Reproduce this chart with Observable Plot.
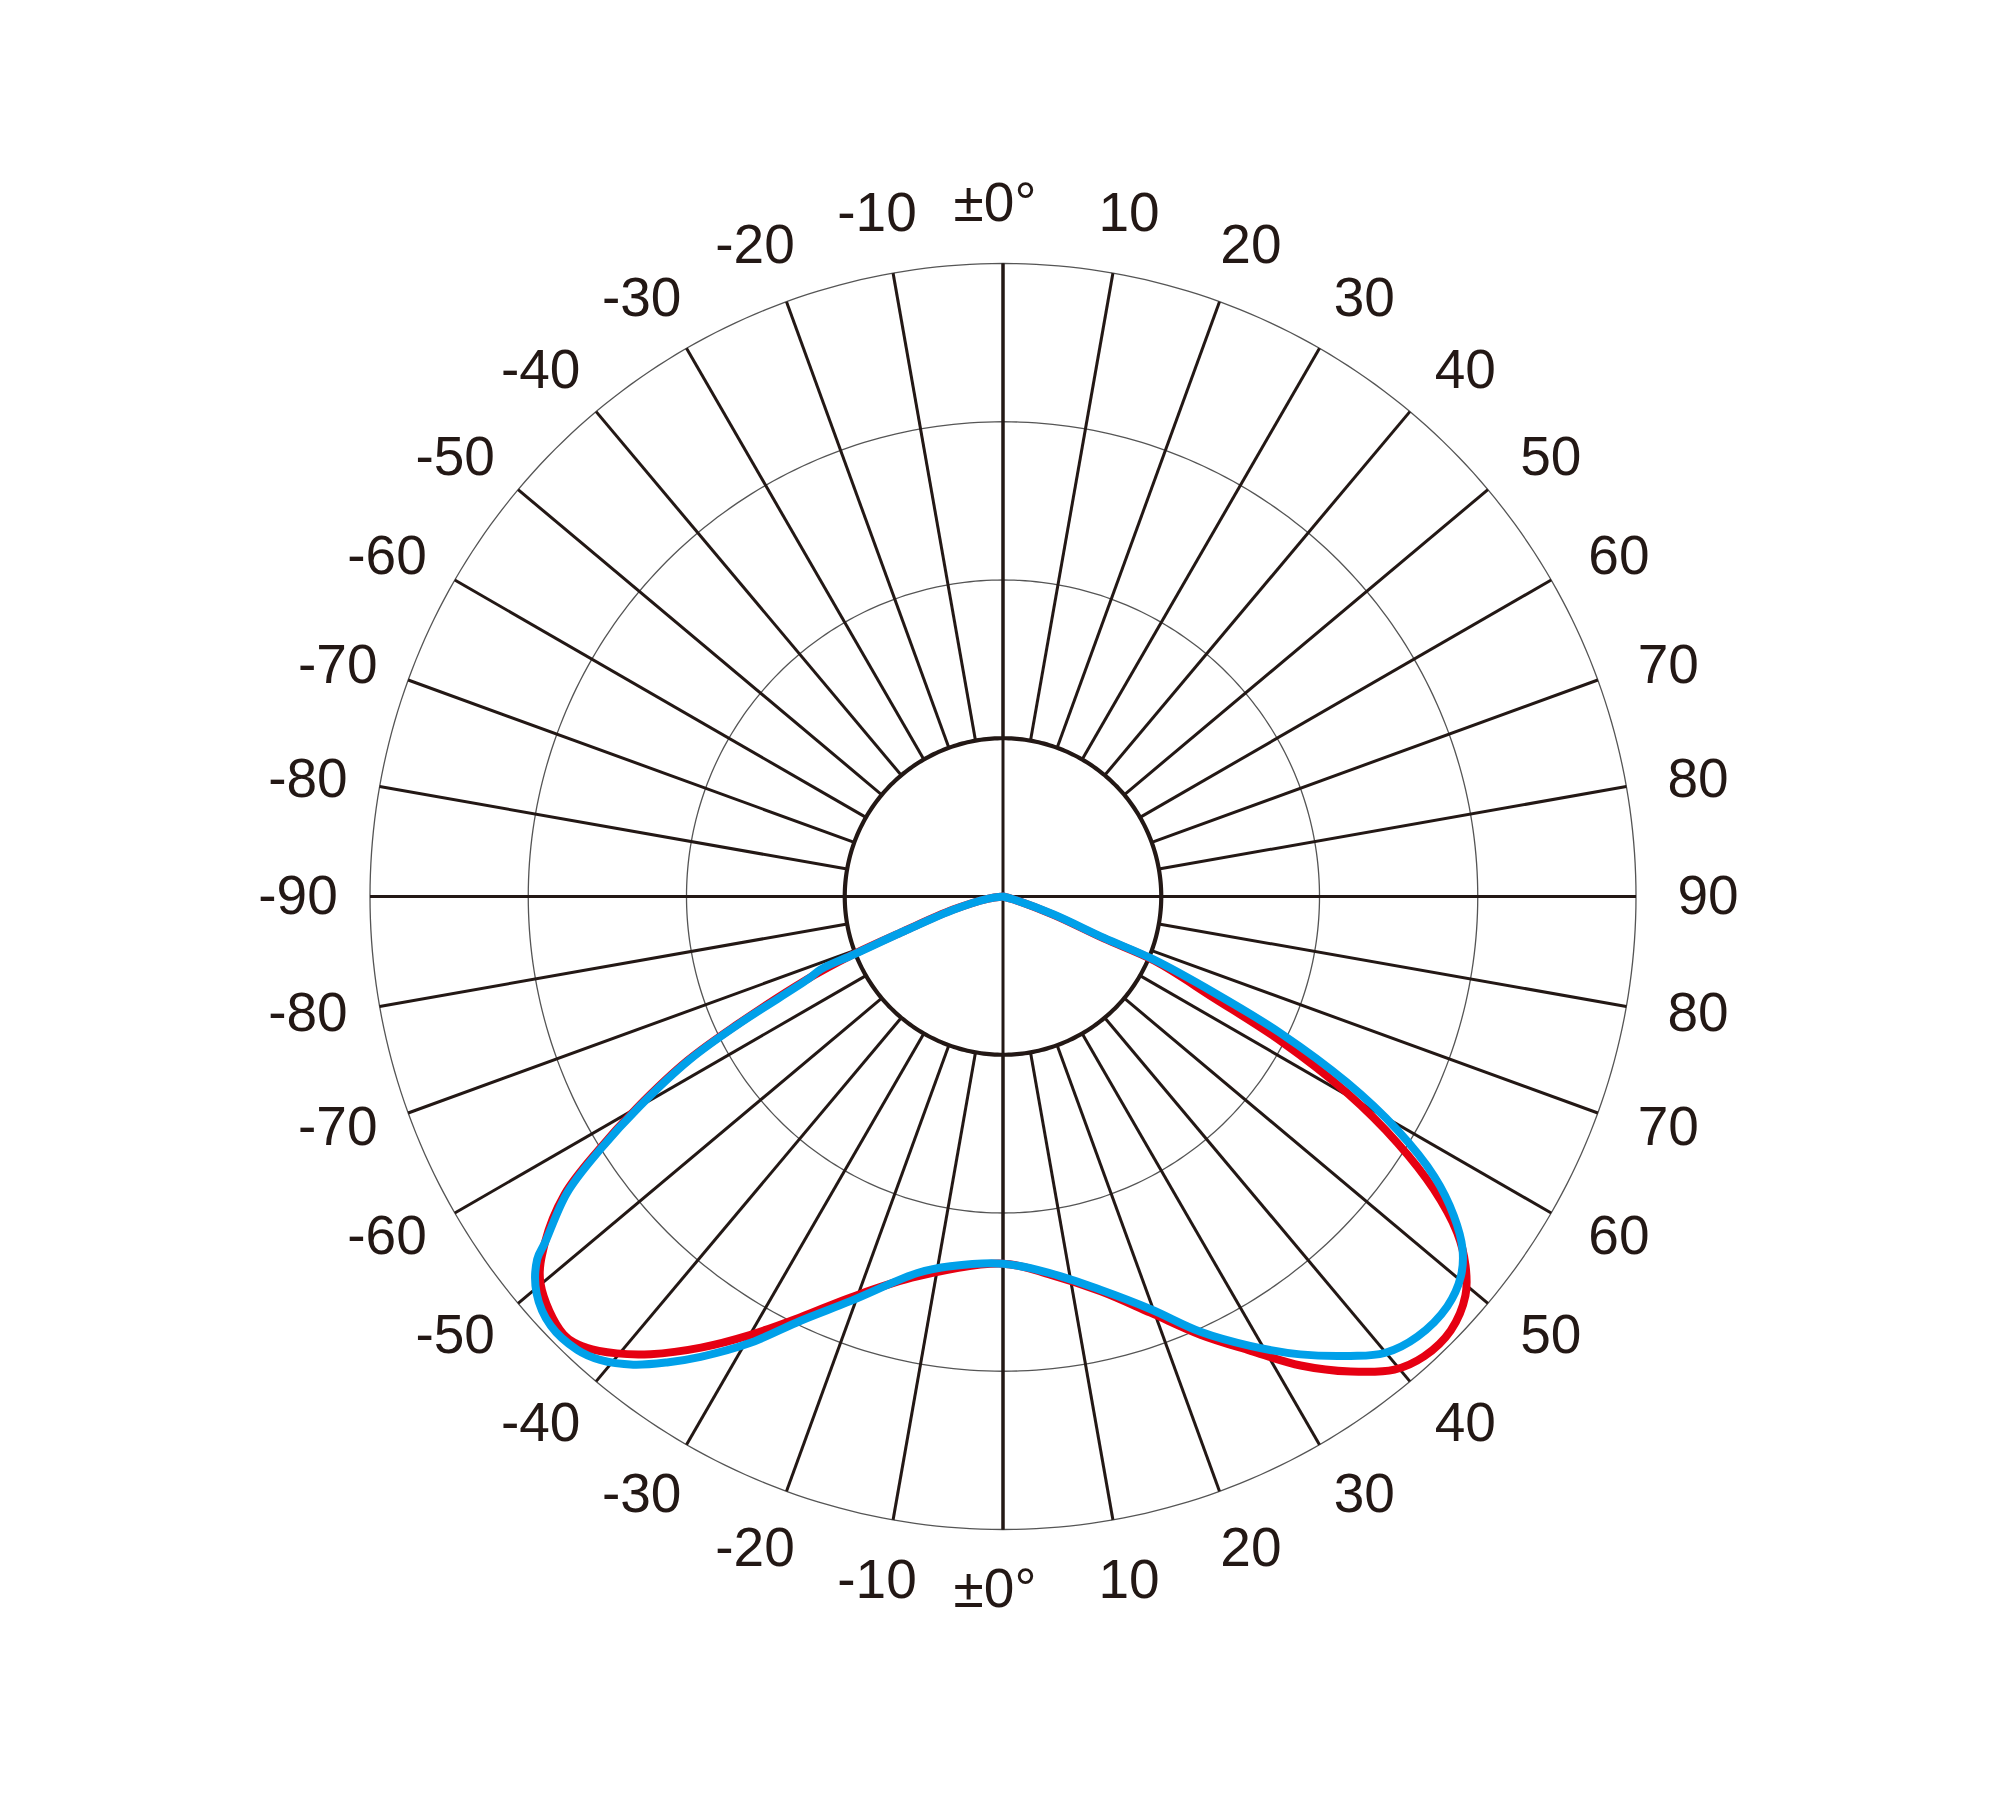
<!DOCTYPE html>
<html>
<head>
<meta charset="utf-8">
<script src="https://cdn.jsdelivr.net/npm/d3@7"></script>
<script src="https://cdn.jsdelivr.net/npm/@observablehq/plot@0.6"></script>
<style>
  html, body { margin: 0; padding: 0; background: #fff; }
  #chart svg { display: block; }
</style>
</head>
<body>
<div id="chart"></div>
<script>
// ---- data ----
const gridRadii = [200, 300, 400];
const innerRadius = 100;
const outerRadius = 400;
const spokeAngles = [-170,-160,-150,-140,-130,-120,-110,-100,-90,-80,-70,-60,-50,-40,-30,-20,-10,0,10,20,30,40,50,60,70,80,90,100,110,120,130,140,150,160,170,180];
const axisAngles = [0, 90];
const tickAngles = [-170,-160,-150,-140,-130,-120,-110,-100,-90,-80,-70,-60,-50,-40,-30,-20,-10,0,10,20,30,40,50,60,70,80,90,100,110,120,130,140,150,160,170,180];
const tickLabels = ["-10","-20","-30","-40","-50","-60","-70","-80","-90","-80","-70","-60","-50","-40","-30","-20","-10","±0°","10","20","30","40","50","60","70","80","90","80","70","60","50","40","30","20","10","±0°"];

const redAngles = [-90,-81.7,-75.2,-70.7,-68.8,-67,-64.3,-62.5,-60,-57.9,-55.8,-52.9,-50.1,-45.1,-42.7,-40.2,-37.6,-33.8,-30,-25.7,-20.8,-12.7,0,7.2,13.9,19.5,24.3,28.6,32.4,36.2,39.6,42.5,45.9,49.2,51.4,53.5,55.8,58,60.3,62.5,64.3,67,67.4,70,74.5,90];
const redValues = [0,10,33,67,103,136,186,225,267,302,335,363,381,392,388,378,365,343,320,295,271,246,232,241,257,279,304,327,351,372,388,394,394,386,374,357,329,294,250,198,148,104,69,34,7,0];

const blueAngles = [-90,-81.7,-75.2,-70.7,-68.8,-68.2,-67,-64.3,-62.5,-60,-57.9,-55.8,-52.9,-52.1,-49.6,-46.5,-43.2,-41,-38.3,-35.8,-33.3,-29.5,-25.5,-20.6,-12.8,-8.1,0,7.2,13.9,19.7,24.4,28.8,33,37.1,39.9,43.3,47.3,50.3,52.5,54.7,57,59.4,61.6,63.8,65.5,67.3,67.7,70.5,74.5,90];
const blueValues = [0,10,32,66,101,124,134,184,223,265,300,333,363,373,387,394,393,388,377,363,348,324,297,273,244,236,232,240,256,277,302,324,345,364,376,382,382,376,366,349,325,289,247,195,147,103,69,34,7,0];

// ---- geometry helpers ----
const W = 2000, H = 1796;
const CX = 1002.5, CY = 896;
const K = 633 / outerRadius; // px per unit
const rad = d => d * Math.PI / 180;
// angle measured from nadir (downwards), positive to the right
const px = (g, r) => r * Math.sin(rad(g));
const py = (g, r) => -r * Math.cos(rad(g));

const ink = "#231815";

const circlePts = radii => radii.flatMap(r => d3.range(0, 361, 1).map(a => ({r, a})));

const redData = redAngles.map((a, i) => ({a, v: redValues[i]}));
const blueData = blueAngles.map((a, i) => ({a, v: blueValues[i]}));

// label placement (around the outer ring)
const labelData = tickAngles.map((g, i) => {
  const abs = Math.abs(g);
  const a = abs <= 90 ? abs : 180 - abs;           // distance from vertical axis
  const a2 = a + 1.3 * Math.sin(rad(2 * a));
  const s = g < 0 ? -1 : 1;
  const pos = abs <= 90 ? s * a2 : s * (180 - a2);
  const R = (693 + 12 * Math.sin(rad(a))) / K;
  return {g: pos, R, label: tickLabels[i]};
});

const chart = Plot.plot({
  width: W,
  height: H,
  margin: 0,
  x: {domain: [-CX / K, (W - CX) / K], range: [0, W], axis: null},
  y: {domain: [-(H - CY) / K, CY / K], range: [H, 0], axis: null},
  style: {background: "#fff"},
  marks: [
    Plot.line(circlePts(gridRadii), {
      x: d => px(d.a, d.r), y: d => py(d.a, d.r), z: "r",
      stroke: "#555", strokeWidth: 1.3
    }),
    Plot.link(spokeAngles, {
      x1: a => px(a, innerRadius), y1: a => py(a, innerRadius),
      x2: a => px(a, outerRadius), y2: a => py(a, outerRadius),
      stroke: ink, strokeWidth: 3
    }),
    Plot.link(axisAngles, {
      x1: a => px(a, outerRadius), y1: a => py(a, outerRadius),
      x2: a => px(a + 180, outerRadius), y2: a => py(a + 180, outerRadius),
      stroke: ink, strokeWidth: 3
    }),
    Plot.line(circlePts([innerRadius]), {
      x: d => px(d.a, d.r), y: d => py(d.a, d.r),
      stroke: ink, strokeWidth: 4.2
    }),
    Plot.line(redData, {
      x: d => px(d.a, d.v), y: d => py(d.a, d.v),
      stroke: "#e60012", strokeWidth: 8, curve: "catmull-rom",
      strokeLinejoin: "round", strokeLinecap: "round"
    }),
    Plot.line(blueData, {
      x: d => px(d.a, d.v), y: d => py(d.a, d.v),
      stroke: "#00a0e9", strokeWidth: 8, curve: "catmull-rom",
      strokeLinejoin: "round", strokeLinecap: "round"
    }),
    Plot.text(labelData.filter(d => d.label !== "±0°"), {
      x: d => px(d.g, d.R), y: d => py(d.g, d.R), text: "label",
      fontSize: 55, fill: ink, fontFamily: "Liberation Sans, Arial, sans-serif",
      textAnchor: "middle"
    }),
    Plot.text(labelData.filter(d => d.label === "±0°"), {
      x: d => px(d.g, d.R), y: d => py(d.g, d.R), text: "label",
      fontSize: 55, fill: ink, fontFamily: "Liberation Sans, Arial, sans-serif",
      textAnchor: "middle", dx: -8
    })
  ]
});
document.getElementById("chart").appendChild(chart);
</script>
</body>
</html>
